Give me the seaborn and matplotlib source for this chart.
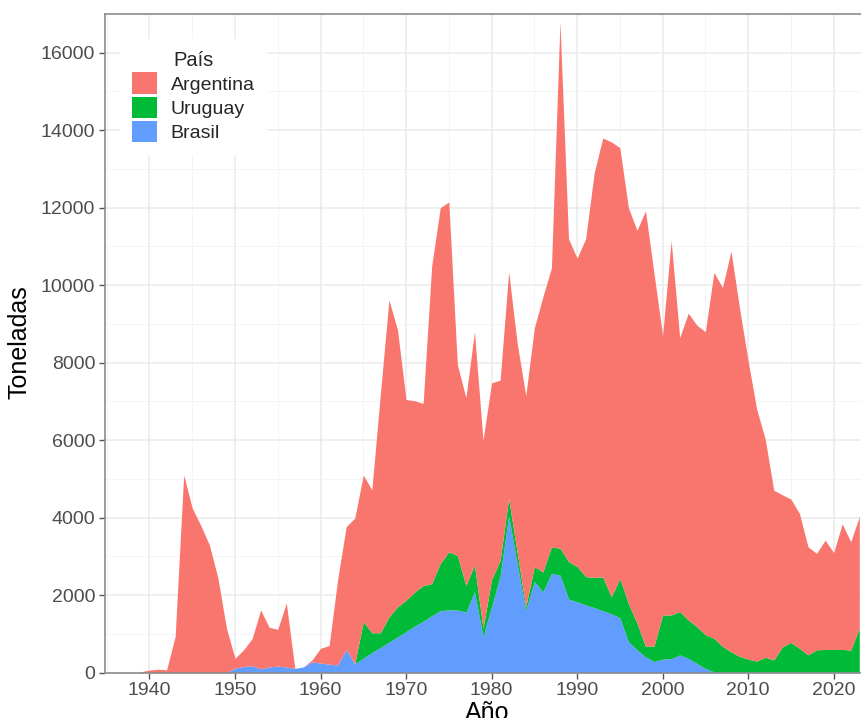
import numpy as np
import pandas as pd
import seaborn as sns
import matplotlib.pyplot as plt
from matplotlib.patches import Patch
from matplotlib.ticker import MultipleLocator

# Años y toneladas (valores acumulados)
anios = list(range(1939, 2024))

# total apilado (Argentina + Uruguay + Brasil)
total = [25, 70, 90, 75, 930, 5100, 4250, 3800, 3300, 2450,
         1150, 370, 590, 880, 1620, 1170, 1120, 1800, 110, 150,
         330, 630, 700, 2400, 3770, 3990, 5100, 4720, 7200, 9620,
         8850, 7050, 7020, 6950, 10500, 12000, 12150, 7950, 7100, 8800,
         6000, 7480, 7550, 10350, 8500, 7150, 8900, 9700, 10450, 16800,
         11200, 10700, 11200, 12900, 13800, 13700, 13550, 12000, 11420, 11920,
         10300, 8700, 11150, 8650, 9280, 8970, 8800, 10330, 9940, 10880,
         9400, 8050, 6800, 6030, 4710, 4590, 4480, 4110, 3250, 3080,
         3420, 3100, 3840, 3380, 4030]

# Uruguay + Brasil
uru_bra = [0, 0, 0, 0, 0, 0, 0, 0, 0, 0,
           0, 120, 160, 180, 100, 150, 170, 150, 110, 150,
           280, 250, 220, 200, 600, 230, 1320, 1030, 1030, 1440,
           1700, 1870, 2080, 2250, 2300, 2820, 3120, 3030, 2250, 2780,
           1150, 2400, 2900, 4500, 3100, 1700, 2740, 2600, 3250, 3210,
           2870, 2740, 2480, 2460, 2470, 1960, 2430, 1790, 1280, 680,
           690, 1490, 1490, 1580, 1360, 1190, 980, 890, 680, 540,
           420, 350, 300, 400, 330, 670, 780, 630, 460, 590,
           600, 600, 600, 585, 1150]

brasil = [0, 0, 0, 0, 0, 0, 0, 0, 0, 0,
          0, 120, 160, 180, 100, 150, 170, 150, 110, 150,
          280, 250, 220, 200, 600, 230, 380, 520, 650, 790,
          920, 1060, 1200, 1330, 1470, 1600, 1620, 1620, 1560, 2090,
          930, 1700, 2500, 4050, 2800, 1600, 2350, 2090, 2560, 2520,
          1900, 1830, 1750, 1680, 1600, 1520, 1420, 800, 590, 410,
          290, 350, 360, 460, 370, 240, 110, 20, 10, 10,
          10, 10, 10, 10, 10, 10, 10, 10, 10, 10,
          10, 10, 10, 10, 10]

paises = ['Argentina', 'Uruguay', 'Brasil']
colores = {'Argentina': '#F8766D', 'Uruguay': '#00BA38', 'Brasil': '#619CFF'}

df = pd.DataFrame({'Año': anios, 'total': total, 'ub': uru_bra, 'Brasil': brasil})
df['Uruguay'] = df['ub'] - df['Brasil']
df['Argentina'] = df['total'] - df['ub']

sns.set_theme(style="whitegrid")
plt.rcParams['font.family'] = ['Liberation Sans', 'DejaVu Sans']

fig = plt.figure(figsize=(8.61, 7.18), dpi=100)
ax = fig.add_axes([105 / 861, 1 - 672.7 / 718, 1 - 105 / 861, (672.7 - 14) / 718])

ax.stackplot(df['Año'], df['Brasil'], df['Uruguay'], df['Argentina'],
             colors=[colores['Brasil'], colores['Uruguay'], colores['Argentina']],
             linewidth=0, zorder=2)

ax.set_xlim(1934.8, 2023.2)
ax.set_ylim(0, 17000)
ax.xaxis.set_major_locator(MultipleLocator(10))
ax.xaxis.set_minor_locator(MultipleLocator(5))
ax.yaxis.set_major_locator(MultipleLocator(2000))
ax.yaxis.set_minor_locator(MultipleLocator(1000))
ax.set_facecolor('white')
ax.grid(which='major', color='#EBEBEB', linewidth=1.1, zorder=0)
ax.grid(which='minor', color='#F2F2F2', linewidth=0.6, zorder=0)
ax.set_axisbelow(True)

for side in ['left', 'bottom', 'top']:
    ax.spines[side].set_color('#8C8C8C')
    ax.spines[side].set_linewidth(1.2)
ax.spines['right'].set_visible(False)

ax.tick_params(axis='both', which='major', labelsize=14, labelcolor='#4D4D4D',
               color='#555555', length=4, width=1, pad=3,
               bottom=True, left=True)
ax.tick_params(axis='both', which='minor', length=0)

ax.set_xlabel('Año', fontsize=18, color='black')
ax.set_ylabel('Toneladas', fontsize=18, color='black')
ax.xaxis.set_label_coords(0.505, -0.043)
ax.yaxis.set_label_coords(-0.097, 0.502)

handles = [Patch(facecolor=colores[p], edgecolor='none', label=p) for p in paises]
leg = ax.legend(handles=handles, title='País', loc='upper left',
                bbox_to_anchor=(0.007, 0.977), fontsize=14, title_fontsize=14.5,
                frameon=True, facecolor='white', edgecolor='white', framealpha=1,
                handlelength=1.3, handleheight=1.3, labelspacing=0.15,
                handletextpad=0.7, borderpad=0.6, fancybox=False)
leg.set_zorder(5)

fig.savefig('out.png', dpi=100)
